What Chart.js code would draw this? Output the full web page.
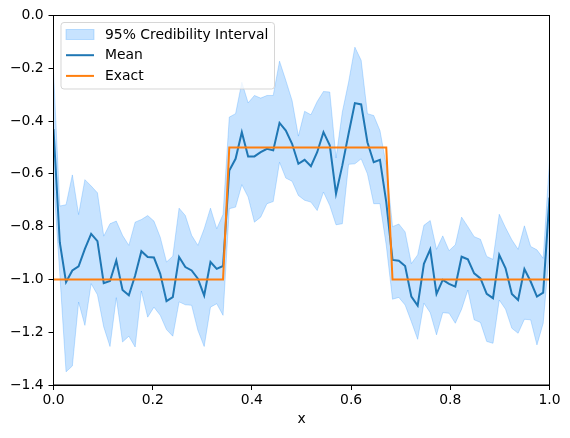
<!DOCTYPE html>
<html>
<head>
<meta charset="utf-8">
<script src="https://cdn.jsdelivr.net/npm/chart.js@4/dist/chart.umd.min.js"></script>
<style>
  html, body { margin: 0; padding: 0; background: #fff; }
  #chart { display: block; }
</style>
</head>
<body>
<canvas id="chart" width="570" height="438"></canvas>
<script>
// grid of x values (80 points from 0 to 1)
const xs = [0, 0.0127, 0.0253, 0.038, 0.0506, 0.0633, 0.0759, 0.0886, 0.1013, 0.1139,
  0.1266, 0.1392, 0.1519, 0.1646, 0.1772, 0.1899, 0.2025, 0.2152, 0.2278, 0.2405,
  0.2532, 0.2658, 0.2785, 0.2911, 0.3038, 0.3165, 0.3291, 0.3418, 0.3544, 0.3671,
  0.3797, 0.3924, 0.4051, 0.4177, 0.4304, 0.443, 0.4557, 0.4684, 0.481, 0.4937,
  0.5063, 0.519, 0.5316, 0.5443, 0.557, 0.5696, 0.5823, 0.5949, 0.6076, 0.6203,
  0.6329, 0.6456, 0.6582, 0.6709, 0.6835, 0.6962, 0.7089, 0.7215, 0.7342, 0.7468,
  0.7595, 0.7722, 0.7848, 0.7975, 0.8101, 0.8228, 0.8354, 0.8481, 0.8608, 0.8734,
  0.8861, 0.8987, 0.9114, 0.9241, 0.9367, 0.9494, 0.962, 0.9747, 0.9873, 1];

const meanVals = [-0.43, -0.86, -1.01, -0.966, -0.95, -0.884, -0.827, -0.855, -1.014, -1.006,
  -0.928, -1.04, -1.06, -0.985, -0.893, -0.915, -0.917, -0.979, -1.082, -1.067,
  -0.915, -0.953, -0.966, -0.997, -1.061, -0.934, -0.96, -0.949, -0.587, -0.543,
  -0.442, -0.534, -0.534, -0.518, -0.505, -0.511, -0.407, -0.436, -0.486, -0.562,
  -0.547, -0.571, -0.518, -0.442, -0.492, -0.675, -0.568, -0.448, -0.332, -0.337,
  -0.48, -0.556, -0.547, -0.707, -0.926, -0.929, -0.949, -1.065, -1.099, -0.941,
  -0.886, -1.055, -1.002, -1.017, -1.027, -0.914, -0.924, -0.977, -0.996, -1.055,
  -1.071, -0.907, -0.958, -1.055, -1.078, -0.961, -1.008, -1.065, -1.05, -0.69];

const upperVals = [-0.21, -0.722, -0.717, -0.604, -0.754, -0.622, -0.646, -0.672, -0.836, -0.789,
  -0.779, -0.833, -0.871, -0.783, -0.773, -0.758, -0.779, -0.84, -0.934, -0.912,
  -0.73, -0.758, -0.833, -0.871, -0.808, -0.73, -0.808, -0.754, -0.385, -0.372,
  -0.253, -0.331, -0.303, -0.313, -0.303, -0.303, -0.173, -0.246, -0.322, -0.457,
  -0.363, -0.376, -0.326, -0.288, -0.29, -0.54, -0.366, -0.253, -0.12, -0.17,
  -0.372, -0.379, -0.436, -0.568, -0.8, -0.79, -0.82, -0.94, -0.907, -0.795,
  -0.777, -0.886, -0.835, -0.891, -0.869, -0.764, -0.8, -0.838, -0.848, -0.913,
  -0.924, -0.753, -0.804, -0.85, -0.886, -0.797, -0.875, -0.888, -0.92, -0.55];

const lowerVals = [-0.62, -0.98, -1.35, -1.328, -1.086, -1.174, -1.016, -1.058, -1.18, -1.254,
  -1.069, -1.237, -1.215, -1.256, -1.044, -1.143, -1.105, -1.136, -1.19, -1.215,
  -1.085, -1.096, -1.098, -1.193, -1.254, -1.105, -1.092, -1.136, -0.732, -0.726,
  -0.641, -0.688, -0.783, -0.764, -0.713, -0.705, -0.556, -0.616, -0.628, -0.682,
  -0.7, -0.707, -0.739, -0.669, -0.72, -0.793, -0.789, -0.564, -0.562, -0.543,
  -0.6, -0.713, -0.713, -0.871, -1.075, -1.068, -1.097, -1.16, -1.227, -1.09,
  -1.126, -1.21, -1.126, -1.128, -1.166, -1.113, -1.04, -1.153, -1.163, -1.235,
  -1.242, -1.078, -1.113, -1.185, -1.204, -1.151, -1.153, -1.248, -1.166, -0.888];

const exactVals = [-1, -1, -1, -1, -1, -1, -1, -1, -1, -1,
  -1, -1, -1, -1, -1, -1, -1, -1, -1, -1,
  -1, -1, -1, -1, -1, -1, -1, -1, -0.5, -0.5,
  -0.5, -0.5, -0.5, -0.5, -0.5, -0.5, -0.5, -0.5, -0.5, -0.5,
  -0.5, -0.5, -0.5, -0.5, -0.5, -0.5, -0.5, -0.5, -0.5, -0.5,
  -0.5, -0.5, -0.5, -0.5, -1, -1, -1, -1, -1, -1,
  -1, -1, -1, -1, -1, -1, -1, -1, -1, -1,
  -1, -1, -1, -1, -1, -1, -1, -1, -1, -1];

const xTicks = [0, 0.2, 0.4, 0.6, 0.8, 1.0];
const yTicks = [-1.4, -1.2, -1.0, -0.8, -0.6, -0.4, -0.2, 0.0];

const FONT = 'DejaVu Sans';
const bandColor = 'rgba(30, 144, 255, 0.25)';

function pts(vals) {
    return xs.map((x, i) => ({ x: x, y: vals[i] }));
}

function fmt(v) {
    const s = Number(v).toFixed(1);
    return s === '-0.0' ? '0.0' : s.replace('-', '\u2212');
}

// black frame around the plot area, like matplotlib spines
const framePlugin = {
    id: 'frame',
    afterDatasetsDraw(chart) {
        const a = chart.chartArea;
        const ctx = chart.ctx;
        ctx.save();
        ctx.strokeStyle = '#000';
        ctx.lineWidth = 1;
        ctx.strokeRect(a.left, a.top, a.right - a.left, a.bottom - a.top);
        ctx.restore();
    }
};

// legend box in the upper left corner of the plot
const legendPlugin = {
    id: 'boxLegend',
    afterDraw(chart) {
        const ctx = chart.ctx;
        const a = chart.chartArea;
        const ds = chart.data.datasets;
        const x0 = a.left + 7.5, y0 = a.top + 7, w = 213.5, h = 66.5;
        ctx.save();
        ctx.beginPath();
        ctx.roundRect(x0, y0, w, h, 3);
        ctx.fillStyle = 'rgba(255,255,255,0.8)';
        ctx.fill();
        ctx.strokeStyle = 'rgba(204,204,204,0.8)';
        ctx.lineWidth = 1;
        ctx.stroke();

        const rows = [
            { label: ds[0].label, kind: 'patch' },
            { label: ds[2].label, kind: 'line', color: ds[2].borderColor },
            { label: ds[3].label, kind: 'line', color: ds[3].borderColor }
        ];
        const hx0 = x0 + 5, hx1 = x0 + 33;
        ctx.font = '13.9px "' + FONT + '"';
        ctx.textBaseline = 'middle';
        ctx.fillStyle = '#000';
        rows.forEach((r, k) => {
            const cy = y0 + 12 + k * 20.7;
            if (r.kind === 'patch') {
                ctx.fillStyle = bandColor;
                ctx.fillRect(hx0, cy - 5, hx1 - hx0, 10);
                ctx.strokeStyle = bandColor;
                ctx.strokeRect(hx0, cy - 5, hx1 - hx0, 10);
            } else {
                ctx.strokeStyle = r.color;
                ctx.lineWidth = 2;
                ctx.beginPath();
                ctx.moveTo(hx0, cy);
                ctx.lineTo(hx1, cy);
                ctx.stroke();
            }
            ctx.fillStyle = '#000';
            ctx.fillText(r.label, x0 + 44, cy + 0.5);
        });
        ctx.restore();
    }
};

const chart = new Chart(document.getElementById('chart'), {
    type: 'line',
    data: {
        datasets: [
            {
                label: '95% Credibility Interval',
                data: pts(upperVals),
                borderColor: bandColor,
                backgroundColor: bandColor,
                borderWidth: 1,
                pointRadius: 0,
                fill: '+1',
                order: 3
            },
            {
                label: 'lower',
                data: pts(lowerVals),
                borderColor: bandColor,
                backgroundColor: bandColor,
                borderWidth: 1,
                pointRadius: 0,
                fill: false,
                order: 4
            },
            {
                label: 'Mean',
                data: pts(meanVals),
                borderColor: '#1f77b4',
                borderWidth: 2,
                pointRadius: 0,
                fill: false,
                order: 2
            },
            {
                label: 'Exact',
                data: pts(exactVals),
                borderColor: '#ff7f0e',
                borderWidth: 2,
                pointRadius: 0,
                fill: false,
                order: 1
            }
        ]
    },
    options: {
        responsive: false,
        animation: false,
        devicePixelRatio: 1,
        layout: { padding: { left: 0, top: 15.5, right: 20.5, bottom: 0 } },
        plugins: {
            legend: { display: false },
            tooltip: { enabled: false }
        },
        scales: {
            x: {
                type: 'linear',
                min: 0,
                max: 1,
                afterBuildTicks(scale) { scale.ticks = xTicks.map(v => ({ value: v })); },
                afterFit(scale) { scale.height = 53; },
                ticks: {
                    callback: fmt,
                    color: '#000',
                    padding: 2.5,
                    maxRotation: 0,
                    font: { family: FONT, size: 13.9 }
                },
                grid: { drawOnChartArea: false, drawTicks: true, tickLength: 5, color: '#000' },
                border: { display: true, color: '#000' },
                title: {
                    display: true,
                    text: 'x',
                    color: '#000',
                    padding: { top: 0, bottom: 10.7 },
                    font: { family: FONT, size: 13.9 }
                }
            },
            y: {
                type: 'linear',
                min: -1.4,
                max: 0,
                afterBuildTicks(scale) { scale.ticks = yTicks.map(v => ({ value: v })); },
                afterFit(scale) { scale.width = 53.5; },
                ticks: {
                    callback: fmt,
                    color: '#000',
                    padding: 4.8,
                    font: { family: FONT, size: 13.9 }
                },
                grid: { drawOnChartArea: false, drawTicks: true, tickLength: 5, color: '#000' },
                border: { display: true, color: '#000' }
            }
        }
    },
    plugins: [framePlugin, legendPlugin]
});
</script>
</body>
</html>
